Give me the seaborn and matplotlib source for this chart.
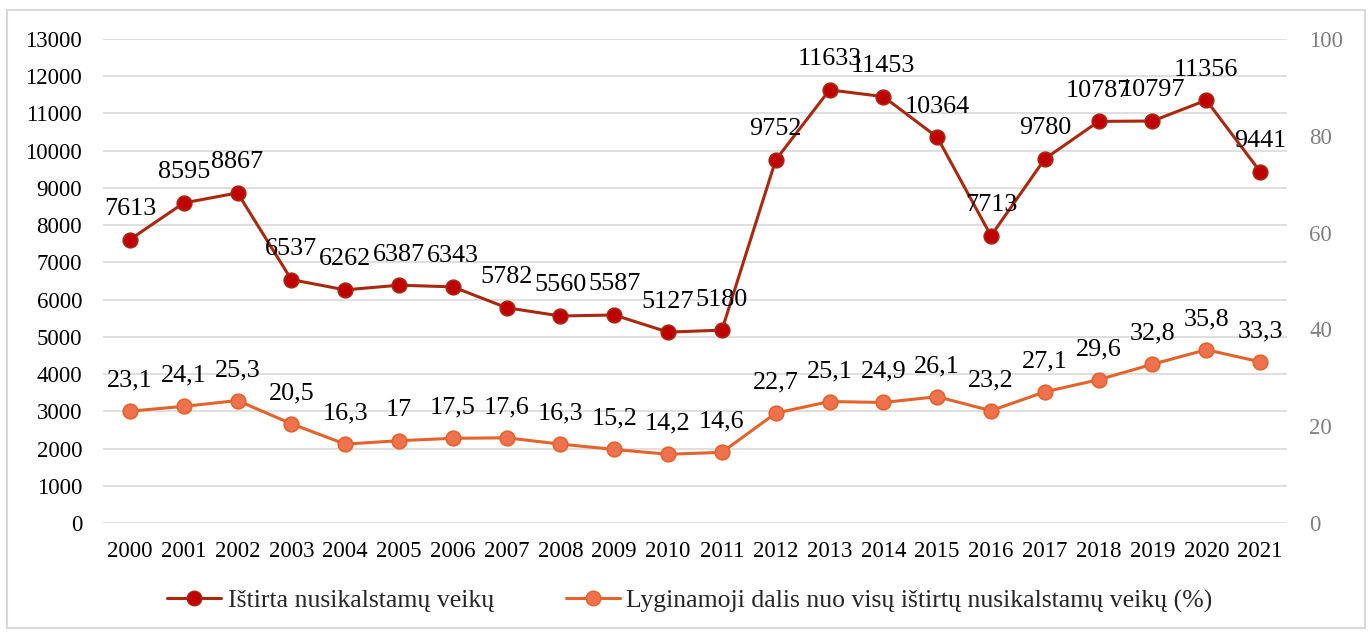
import matplotlib
matplotlib.use("Agg")
import matplotlib.pyplot as plt
import seaborn as sns
from matplotlib.patches import Rectangle
from matplotlib.lines import Line2D

# data
years = list(range(2000, 2022))
investigated = [7613, 8595, 8867, 6537, 6262, 6387, 6343, 5782, 5560, 5587, 5127,
                5180, 9752, 11633, 11453, 10364, 7713, 9780, 10787, 10797, 11356, 9441]
share_pct = [23.1, 24.1, 25.3, 20.5, 16.3, 17, 17.5, 17.6, 16.3, 15.2, 14.2,
             14.6, 22.7, 25.1, 24.9, 26.1, 23.2, 27.1, 29.6, 32.8, 35.8, 33.3]
label_a = "Ištirta nusikalstamų veikų"
label_b = "Lyginamoji dalis nuo visų ištirtų nusikalstamų veikų (%)"

sns.set_theme(style="white")
plt.rcParams['font.family'] = ['Liberation Serif', 'DejaVu Serif']

dark_red = "#A8290F"
dark_fill = "#C00000"
orange = "#E2632B"
orange_fill = "#F0714E"
fs = 16.5

fig = plt.figure(figsize=(13.69, 6.32), dpi=100)
ax = fig.add_axes([103 / 1369, 1 - 523 / 632, (1287 - 103) / 1369, (523 - 39) / 632])
ax2 = ax.twinx()

sns.lineplot(x=years, y=investigated, ax=ax, color=dark_red, linewidth=2.2,
             marker="o", markersize=10.5, markerfacecolor=dark_fill,
             markeredgecolor=dark_red, markeredgewidth=1.2, zorder=5)
sns.lineplot(x=years, y=share_pct, ax=ax2, color=orange, linewidth=2.2,
             marker="o", markersize=10.5, markerfacecolor=orange_fill,
             markeredgecolor=orange, markeredgewidth=1.2, zorder=5)

ax.set_xlim(1999.5, 2021.5)
ax.set_ylim(0, 13000)
ax2.set_ylim(0, 100)
ax.set_yticks(range(0, 13001, 1000))
ax2.set_yticks(range(0, 101, 20))
ax.set_xticks(years)
ax.set_xticklabels([str(y) for y in years])

ax.grid(axis="y", color="#D9D9D9", linewidth=1.2)
ax.set_axisbelow(True)
for a in (ax, ax2):
    for s in a.spines.values():
        s.set_visible(False)

ax.tick_params(axis="y", labelsize=fs, colors="black", length=0, pad=15)
ax.tick_params(axis="x", labelsize=fs, colors="black", length=0, pad=13)
ax2.tick_params(axis="y", labelsize=fs, colors="#7F7F7F", length=0, pad=16)

# data labels above each point
for x, v in zip(years, investigated):
    ax.annotate(str(v), (x, v), textcoords="offset points", xytext=(0, 22),
                ha="center", va="center", fontsize=18.8, color="black", zorder=6)
for x, v in zip(years, share_pct):
    txt = f"{v:g}".replace(".", ",")
    ax2.annotate(txt, (x, v), textcoords="offset points", xytext=(0, 22),
                 ha="center", va="center", fontsize=18.8, color="black", zorder=6)

handles = [
    Line2D([], [], color=dark_red, linewidth=2.2, marker="o", markersize=10.5,
           markerfacecolor=dark_fill, markeredgecolor=dark_red),
    Line2D([], [], color=orange, linewidth=2.2, marker="o", markersize=10.5,
           markerfacecolor=orange_fill, markeredgecolor=orange),
]
fig.legend(handles, [label_a, label_b], loc="center", bbox_to_anchor=(690 / 1369, 1 - 601 / 632),
           ncol=2, frameon=False, fontsize=18.5, handlelength=2.1, handletextpad=0.25,
           columnspacing=2.8)

fig.patches.append(Rectangle((7 / 1369, 1 - 628 / 632), (1365 - 7) / 1369, (628 - 10) / 632,
                             transform=fig.transFigure, fill=False,
                             edgecolor="#D9D9D9", linewidth=1.5))

fig.savefig("out.png", dpi=100)
